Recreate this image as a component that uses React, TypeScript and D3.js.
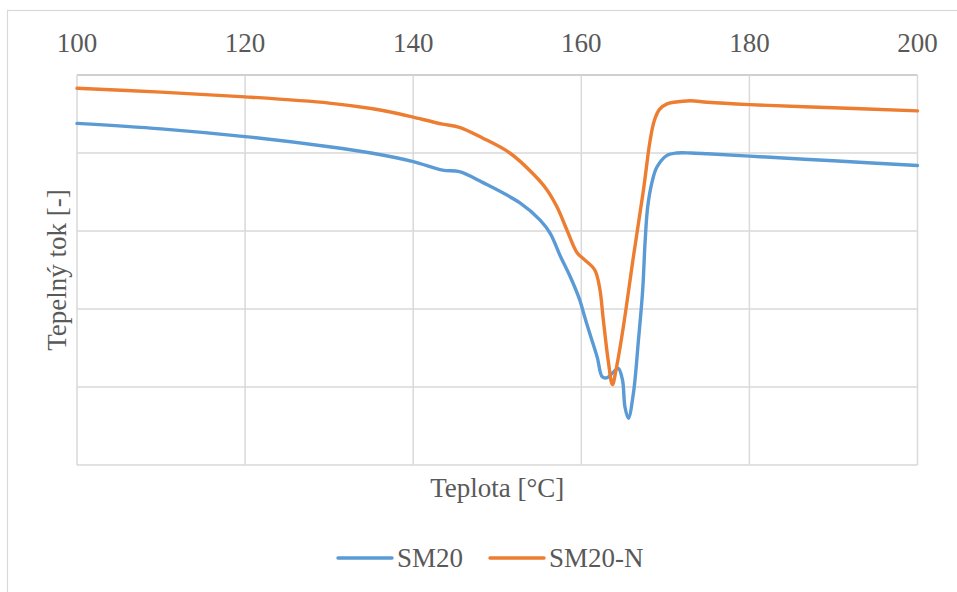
import { useEffect, useRef } from "react";
import * as d3 from "d3";

// temperature [°C] and heat flow (arbitrary units, gridline = 1)
const tempSM20 = [100, 110, 120, 130, 135, 140, 143.5, 145.5, 148.3, 152.7, 155.1, 156.3, 157.5, 158.7, 159.8, 160.4, 161.0, 161.9, 162.5, 163.1, 163.8, 164.4, 164.9, 165.2, 165.6, 166.2, 166.8, 167.3, 167.6, 167.9, 168.4, 169.0, 170.2, 171.4, 173, 175, 180, 190, 200];
const flowSM20 = [4.38, 4.31, 4.21, 4.08, 4.0, 3.89, 3.78, 3.76, 3.62, 3.36, 3.14, 2.97, 2.68, 2.41, 2.12, 1.9, 1.69, 1.38, 1.13, 1.12, 1.19, 1.24, 1.09, 0.74, 0.6, 0.92, 1.6, 2.24, 2.88, 3.31, 3.62, 3.82, 3.97, 4.0, 4.0, 3.99, 3.96, 3.9, 3.84];

const tempSM20N = [100, 110, 120, 130, 135, 138.4, 140, 143.5, 145.5, 148.3, 151.5, 154.2, 155.9, 157.1, 158.3, 159.5, 160.4, 161.6, 162.2, 162.6, 163.2, 163.7, 164.2, 165.0, 166.2, 167.4, 168.2, 168.7, 169.3, 170.2, 171, 173, 175, 180, 190, 200];
const flowSM20N = [4.83, 4.78, 4.72, 4.64, 4.57, 4.5, 4.46, 4.37, 4.33, 4.19, 4.0, 3.74, 3.53, 3.31, 3.01, 2.72, 2.63, 2.5, 2.26, 1.88, 1.34, 1.03, 1.26, 1.77, 2.67, 3.53, 4.17, 4.42, 4.56, 4.63, 4.65, 4.67, 4.65, 4.62, 4.58, 4.54];

const xTicks = [100, 120, 140, 160, 180, 200];
const yTicks = [0, 1, 2, 3, 4, 5];

const seriesNames = ["SM20", "SM20-N"];
const COLORS = ["#5B9BD5", "#ED7D31"];
const FONT = "'Liberation Serif', 'Times New Roman', serif";
const TEXT = "#595959";

export default function App() {
  const ref = useRef<SVGSVGElement>(null);

  useEffect(() => {
    const svg = d3.select(ref.current);
    svg.selectAll("*").remove();

    const W = 957, H = 592;
    const left = 77, right = 917.5, top = 75, bottom = 465;

    const x = d3.scaleLinear().domain([100, 200]).range([left, right]);
    const y = d3.scaleLinear().domain([0, 5]).range([bottom, top]);

    svg.append("rect").attr("width", W).attr("height", H).attr("fill", "#fff");

    // outer frame
    svg.append("rect")
      .attr("x", 7.5).attr("y", 10.5)
      .attr("width", 980).attr("height", 620)
      .attr("fill", "none").attr("stroke", "#d9d9d9").attr("stroke-width", 1.2);

    // grid
    const grid = svg.append("g").attr("stroke", "#d9d9d9").attr("stroke-width", 1.5);
    yTicks.forEach(t => {
      grid.append("line")
        .attr("x1", left).attr("x2", right)
        .attr("y1", y(t)).attr("y2", y(t))
        .attr("stroke", t === 5 ? "#bfbfbf" : "#d9d9d9");
    });
    xTicks.forEach(t => {
      grid.append("line")
        .attr("x1", x(t)).attr("x2", x(t))
        .attr("y1", top).attr("y2", bottom);
    });

    // top axis labels
    svg.append("g").selectAll("text").data(xTicks).join("text")
      .attr("x", d => x(d)).attr("y", 52)
      .attr("text-anchor", "middle")
      .attr("fill", TEXT)
      .style("font-family", FONT).style("font-size", "27px")
      .text(d => d);

    // series
    const line = d3.line<[number, number]>()
      .x(d => x(d[0])).y(d => y(d[1]))
      .curve(d3.curveCatmullRom.alpha(0.5));

    const data: [number, number][][] = [
      tempSM20.map((t, i) => [t, flowSM20[i]]),
      tempSM20N.map((t, i) => [t, flowSM20N[i]]),
    ];
    data.forEach((d, i) => {
      svg.append("path")
        .datum(d)
        .attr("fill", "none")
        .attr("stroke", COLORS[i])
        .attr("stroke-width", 3.4)
        .attr("stroke-linejoin", "round")
        .attr("stroke-linecap", "round")
        .attr("d", line);
    });

    // axis titles
    svg.append("text")
      .attr("x", (left + right) / 2).attr("y", 497)
      .attr("text-anchor", "middle").attr("fill", TEXT)
      .style("font-family", FONT).style("font-size", "27px")
      .text("Teplota [°C]");

    svg.append("text")
      .attr("transform", `translate(66,${(top + bottom) / 2}) rotate(-90)`)
      .attr("text-anchor", "middle").attr("fill", TEXT)
      .style("font-family", FONT).style("font-size", "27px")
      .text("Tepelný tok [-]");

    // legend
    const legendX = [338, 490];
    seriesNames.forEach((name, i) => {
      svg.append("line")
        .attr("x1", legendX[i]).attr("x2", legendX[i] + 54)
        .attr("y1", 558).attr("y2", 558)
        .attr("stroke", COLORS[i]).attr("stroke-width", 3.4)
        .attr("stroke-linecap", "round");
      svg.append("text")
        .attr("x", legendX[i] + 59).attr("y", 567)
        .attr("fill", TEXT)
        .style("font-family", FONT).style("font-size", "27px")
        .text(name);
    });
  }, []);

  return (
    <svg
      ref={ref}
      width={957}
      height={592}
      style={{ position: "absolute", left: 0, top: 0, display: "block" }}
    />
  );
}
